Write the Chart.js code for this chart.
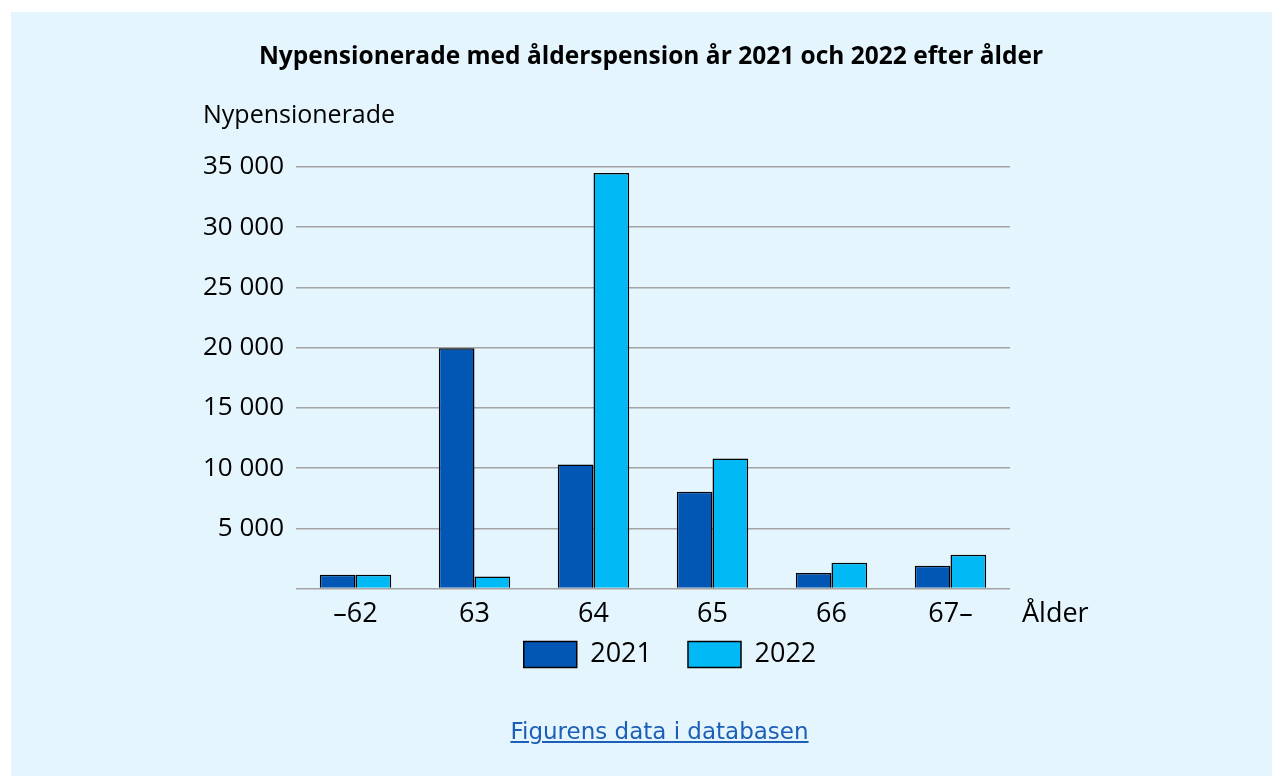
<!DOCTYPE html>
<html lang="sv">
<head>
<meta charset="utf-8">
<title>Nypensionerade med ålderspension</title>
<script src="https://cdn.jsdelivr.net/npm/chart.js@4/dist/chart.umd.min.js"></script>
<style>
    body { margin: 0; background: #ffffff; }
    .panel {
        position: absolute; left: 11px; top: 12px;
        width: 1261px; height: 764px;
        background: #e4f5fd;
    }
    .chart-wrap { position: absolute; left: 0; top: 0; width: 1261px; height: 710px; }
    .data-link {
        position: absolute; left: 18px; width: 1261px; top: 706px;
        text-align: center;
        font-family: "DejaVu Sans", sans-serif; font-size: 23px;
        color: #1d5fb8; text-decoration: underline;
    }
</style>
</head>
<body>
<div class="panel">
    <div class="chart-wrap"><canvas id="pensionChart"></canvas></div>
    <a class="data-link" href="#">Figurens data i databasen</a>
</div>
<script>
const ageGroups = ['–62', '63', '64', '65', '66', '67–'];
const values2021 = [1150, 19950, 10300, 8050, 1300, 1900];
const values2022 = [1150, 1000, 34500, 10800, 2150, 2800];
const yTicks = [0, 5000, 10000, 15000, 20000, 25000, 30000, 35000];

const FONT = '"Open Sans", sans-serif';
const TITLE = 'Nypensionerade med ålderspension år 2021 och 2022 efter ålder';

// title, horizontal y title and x title drawn by hand
const axisTexts = {
    id: 'axisTexts',
    afterUpdate(chart) {
        // pull the legend up closer to the axis labels
        const legend = chart.legend;
        const box = legend.legendHitBoxes[0];
        if (!box) return;
        const shift = (chart.chartArea.bottom + 66) - (box.top + box.height / 2);
        legend.top += shift;
        legend.bottom += shift;
    },
    afterDraw(chart) {
        const ctx = chart.ctx;
        const area = chart.chartArea;
        const xScale = chart.scales.x;
        ctx.save();
        ctx.fillStyle = '#000';
        ctx.textBaseline = 'middle';
        ctx.textAlign = 'center';
        ctx.font = 'bold 24.5px ' + FONT;
        ctx.fillText(TITLE, 640, 45);
        ctx.textAlign = 'left';
        ctx.font = '25px ' + FONT;
        ctx.fillText('Nypensionerade', area.left - 93, area.top - 51);
        ctx.font = '27px ' + FONT;
        ctx.fillText('Ålder', area.right + 12, xScale.top + 26);
        ctx.restore();
    }
};

new Chart(document.getElementById('pensionChart'), {
    type: 'bar',
    data: {
        labels: ageGroups,
        datasets: [
            {
                label: '2021',
                data: values2021,
                backgroundColor: '#0357b4',
                borderColor: '#000000',
                borderWidth: 1.5
            },
            {
                label: '2022',
                data: values2022,
                backgroundColor: '#00b9f5',
                borderColor: '#000000',
                borderWidth: 1.5
            }
        ]
    },
    options: {
        responsive: true,
        maintainAspectRatio: false,
        animation: false,
        categoryPercentage: 0.6,
        barPercentage: 1.0,
        layout: { padding: { left: 57, right: 0, top: 155, bottom: 8 } },
        plugins: {
            title: { display: false },
            legend: {
                position: 'bottom',
                labels: {
                    color: '#000',
                    boxWidth: 53,
                    boxHeight: 26,
                    padding: 36,
                    font: { family: FONT, size: 27 }
                }
            },
            tooltip: { enabled: false }
        },
        scales: {
            x: {
                grid: { display: false, drawTicks: false },
                border: { display: false },
                ticks: {
                    color: '#000',
                    padding: 10,
                    font: { family: FONT, size: 27 }
                }
            },
            y: {
                min: 0,
                max: 35000,
                afterFit(scale) { scale.width = 228; },
                afterBuildTicks(scale) { scale.ticks = yTicks.map(v => ({ value: v })); },
                grid: { color: '#a3a3a3', lineWidth: 1.5, drawTicks: false },
                border: { display: false },
                ticks: {
                    color: '#000',
                    padding: 12,
                    font: { family: FONT, size: 26 },
                    callback: function(value) {
                        if (value === 0) return '';
                        return value.toLocaleString('sv-SE').replace(/\s/g, ' ');
                    }
                }
            },
            // empty right axis, only keeps room beside the plot
            yRight: {
                position: 'right',
                afterFit(scale) { scale.width = 262; },
                grid: { display: false, drawTicks: false },
                border: { display: false },
                ticks: { display: false }
            }
        }
    },
    plugins: [axisTexts]
});
</script>
</body>
</html>
